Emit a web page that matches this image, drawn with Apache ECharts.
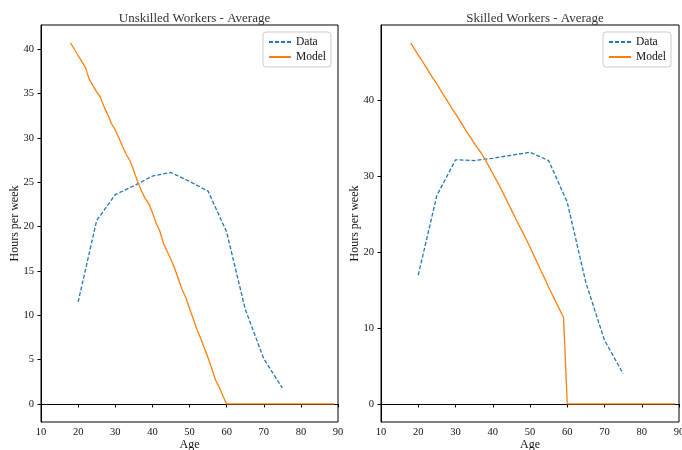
<!DOCTYPE html>
<html>
<head>
<meta charset="utf-8">
<script src="https://cdn.jsdelivr.net/npm/echarts@6/dist/echarts.min.js"></script>
<style>html,body{margin:0;padding:0;background:#fff}#c{width:682px;height:450px}</style>
</head>
<body>
<div id="c"></div>
<script>
var dataAges = [20, 25, 30, 35, 40, 45, 50, 55, 60, 65, 70, 75];
var unskilledData = [11.5, 20.7, 23.6, 24.6, 25.7, 26.1, 25.1, 24.0, 19.4, 10.7, 5.1, 1.8];
var skilledData = [17.0, 27.5, 32.2, 32.1, 32.4, 32.8, 33.2, 32.1, 26.6, 16.0, 8.4, 4.0];

var modelAges = [18,19,20,21,22,23,24,25,26,27,28,29,30,31,32,33,34,35,36,37,38,39,40,41,42,43,44,45,46,47,48,49,50,51,52,53,54,55,56,57,58,59,60,61,62,63,64,65,66,67,68,69,70,71,72,73,74,75,76,77,78,79,80,81,82,83,84,85,86,87,88,89];
var unskilledModel = [40.7,40.0,39.3,38.6,37.9,36.6,35.9,35.2,34.6,33.5,32.6,31.6,30.9,30.0,29.0,28.1,27.4,26.3,25.1,24.1,23.2,22.6,21.6,20.4,19.5,18.1,17.2,16.3,15.3,14.1,12.9,12.0,10.8,9.6,8.4,7.4,6.3,5.2,4.0,2.7,1.9,0.9,0,0,0,0,0,0,0,0,0,0,0,0,0,0,0,0,0,0,0,0,0,0,0,0,0,0,0,0,0,0];
var skilledModel = [47.6,46.8,46.0,45.3,44.5,43.7,42.9,42.2,41.4,40.6,39.8,39.0,38.3,37.5,36.7,35.9,35.2,34.4,33.7,33.0,32.2,31.3,30.4,29.5,28.6,27.6,26.6,25.6,24.6,23.6,22.7,21.7,20.7,19.6,18.6,17.5,16.5,15.4,14.4,13.4,12.4,11.4,0,0,0,0,0,0,0,0,0,0,0,0,0,0,0,0,0,0,0,0,0,0,0,0,0,0,0,0,0,0];

var xTicks = [10, 20, 30, 40, 50, 60, 70, 80, 90];
var unskilledYTicks = [0, 5, 10, 15, 20, 25, 30, 35, 40];
var skilledYTicks = [0, 10, 20, 30, 40];
var titles = ['Unskilled Workers - Average', 'Skilled Workers - Average'];

function pairs(xs, ys) { return xs.map(function (x, i) { return [x, ys[i]]; }); }

var FONT = 'Liberation Serif';
var txt = { color: '#111', fontFamily: FONT, fontSize: 10.5 };

function xAxis(gi) {
  return {
    type: 'value', gridIndex: gi, min: xTicks[0], max: xTicks[xTicks.length - 1], interval: 10,
    name: 'Age', nameLocation: 'middle', nameGap: 17, nameMoveOverlap: false,
    nameTextStyle: { color: '#111', fontFamily: FONT, fontSize: 12 },
    axisLine: { show: true, lineStyle: { color: '#000', width: 1 } },
    axisTick: { show: true, length: 3.5, lineStyle: { color: '#000' } },
    axisLabel: Object.assign({ margin: 5 }, txt),
    splitLine: { show: false }
  };
}
function yAxis(gi, ticks, mn, mx) {
  return {
    type: 'value', gridIndex: gi, min: mn, max: mx,
    name: 'Hours per week', nameLocation: 'middle', nameGap: 20, nameMoveOverlap: false,
    nameTextStyle: { color: '#111', fontFamily: FONT, fontSize: 12 },
    axisLine: { show: true, lineStyle: { color: '#000', width: 1 } },
    axisTick: { show: true, length: 3.5, customValues: ticks, lineStyle: { color: '#000' } },
    axisLabel: Object.assign({ margin: 7, customValues: ticks }, txt),
    splitLine: { show: false }
  };
}

function legendAt(left) {
  return { data: ['Data', 'Model'], orient: 'vertical', left: left, top: 32, itemWidth: 22, itemHeight: 8, itemGap: 3,
    padding: [4, 5, 4, 5], borderColor: '#ccc', borderWidth: 1, borderRadius: 3, backgroundColor: 'rgba(255,255,255,0.8)',
    itemStyle: { opacity: 0 },
    textStyle: { color: '#111', fontFamily: FONT, fontSize: 11.5 } };
}

var uMax = 40.7, sMax = 47.6;
var option = {
  animation: false,
  backgroundColor: '#fff',
  title: [
    { text: titles[0], left: 189.5, top: 7, textAlign: 'center', textStyle: { color: '#333', fontFamily: FONT, fontSize: 13, fontWeight: 'normal' } },
    { text: titles[1], left: 530, top: 7, textAlign: 'center', textStyle: { color: '#333', fontFamily: FONT, fontSize: 13, fontWeight: 'normal' } }
  ],
  grid: [
    { left: 41, right: 344, top: 25, bottom: 28, show: true, borderColor: '#000', borderWidth: 1, outerBoundsMode: 'none', containLabel: false },
    { left: 381, right: 3, top: 25, bottom: 28, show: true, borderColor: '#000', borderWidth: 1, outerBoundsMode: 'none', containLabel: false }
  ],
  legend: [legendAt(263), legendAt(603)],
  xAxis: [xAxis(0), xAxis(1)],
  yAxis: [yAxis(0, unskilledYTicks, -0.05 * uMax, 1.05 * uMax), yAxis(1, skilledYTicks, -0.05 * sMax, 1.05 * sMax)],
  series: [
    { name: 'Data', type: 'line', xAxisIndex: 0, yAxisIndex: 0, data: pairs(dataAges, unskilledData), symbol: 'none',
      lineStyle: { color: '#1f77b4', width: 1.3, type: [4, 2] }, itemStyle: { color: '#1f77b4' } },
    { name: 'Model', type: 'line', xAxisIndex: 0, yAxisIndex: 0, data: pairs(modelAges, unskilledModel), symbol: 'none',
      lineStyle: { color: '#ff7f0e', width: 1.3 }, itemStyle: { color: '#ff7f0e' } },
    { name: 'Data', type: 'line', xAxisIndex: 1, yAxisIndex: 1, data: pairs(dataAges, skilledData), symbol: 'none',
      lineStyle: { color: '#1f77b4', width: 1.3, type: [4, 2] }, itemStyle: { color: '#1f77b4' } },
    { name: 'Model', type: 'line', xAxisIndex: 1, yAxisIndex: 1, data: pairs(modelAges, skilledModel), symbol: 'none',
      lineStyle: { color: '#ff7f0e', width: 1.3 }, itemStyle: { color: '#ff7f0e' } }
  ]
};
var chart = echarts.init(document.getElementById('c'), null, { renderer: 'canvas' });
chart.setOption(option);
</script>
</body>
</html>
